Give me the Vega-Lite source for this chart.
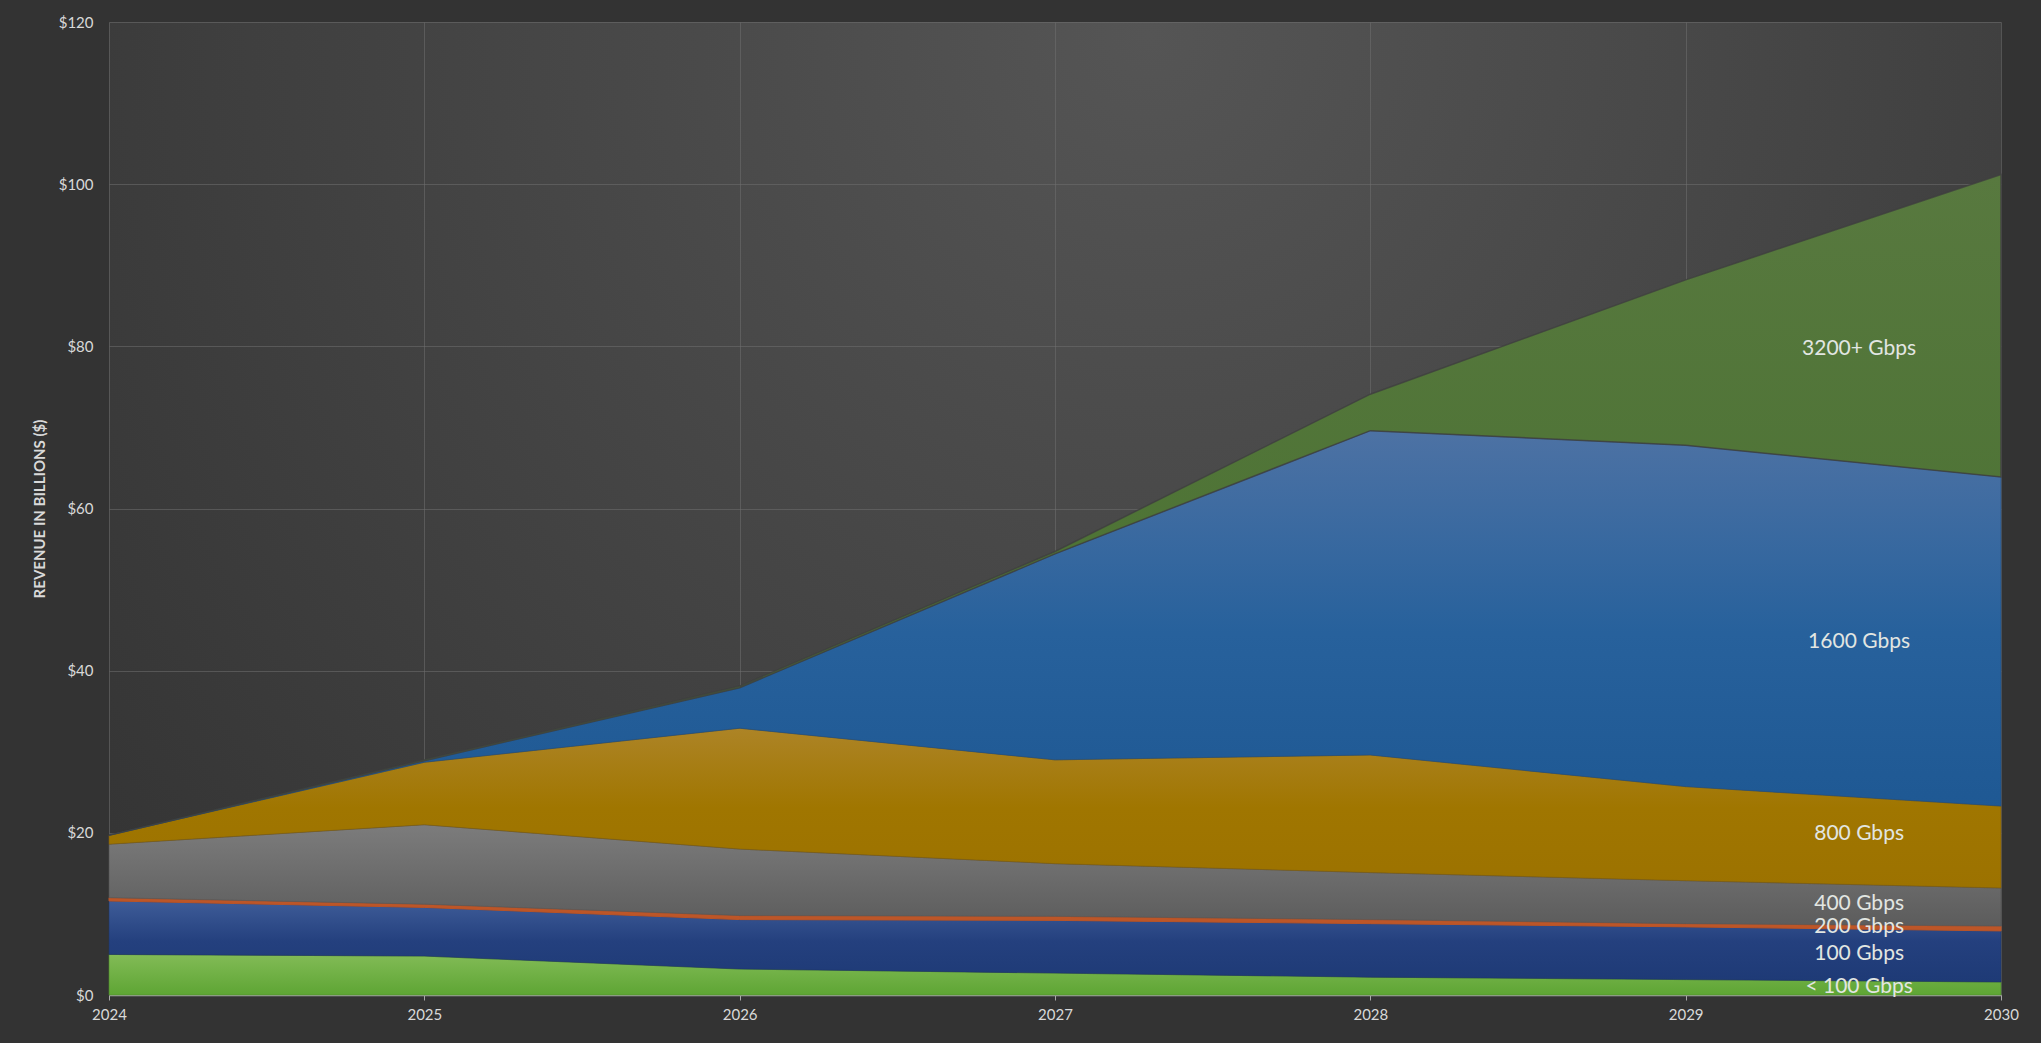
{
  "$schema": "https://vega.github.io/schema/vega-lite/v6.json",
  "width": 1892,
  "height": 973,
  "autosize": {"type": "none"},
  "padding": {"left": 109, "top": 22, "right": 40, "bottom": 48},
  "background": "#333333",
  "config": {
    "view": {
      "stroke": null,
      "fill": {"gradient": "radial", "x1": 0.55, "y1": 0.25, "r1": 0, "x2": 0.55, "y2": 0.25, "r2": 0.8,
        "stops": [{"offset": 0, "color": "#555555"}, {"offset": 1, "color": "#303030"}]}
    },
    "font": "Lato",
    "axis": {"labelFont": "Lato", "titleFont": "Lato"}
  },
  "datasets": {
    "rev": [
      {"year": 2024, "k": 1, "segment": "< 100 Gbps", "value": 5.0},
      {"year": 2025, "k": 1, "segment": "< 100 Gbps", "value": 4.8},
      {"year": 2026, "k": 1, "segment": "< 100 Gbps", "value": 3.2},
      {"year": 2027, "k": 1, "segment": "< 100 Gbps", "value": 2.7},
      {"year": 2028, "k": 1, "segment": "< 100 Gbps", "value": 2.2},
      {"year": 2029, "k": 1, "segment": "< 100 Gbps", "value": 1.9},
      {"year": 2030, "k": 1, "segment": "< 100 Gbps", "value": 1.6},
      {"year": 2024, "k": 2, "segment": "100 Gbps", "value": 6.6},
      {"year": 2025, "k": 2, "segment": "100 Gbps", "value": 6.0},
      {"year": 2026, "k": 2, "segment": "100 Gbps", "value": 6.1},
      {"year": 2027, "k": 2, "segment": "100 Gbps", "value": 6.5},
      {"year": 2028, "k": 2, "segment": "100 Gbps", "value": 6.6},
      {"year": 2029, "k": 2, "segment": "100 Gbps", "value": 6.5},
      {"year": 2030, "k": 2, "segment": "100 Gbps", "value": 6.3},
      {"year": 2024, "k": 3, "segment": "200 Gbps", "value": 0.4},
      {"year": 2025, "k": 3, "segment": "200 Gbps", "value": 0.4},
      {"year": 2026, "k": 3, "segment": "200 Gbps", "value": 0.5},
      {"year": 2027, "k": 3, "segment": "200 Gbps", "value": 0.5},
      {"year": 2028, "k": 3, "segment": "200 Gbps", "value": 0.5},
      {"year": 2029, "k": 3, "segment": "200 Gbps", "value": 0.4},
      {"year": 2030, "k": 3, "segment": "200 Gbps", "value": 0.6},
      {"year": 2024, "k": 4, "segment": "400 Gbps", "value": 6.6},
      {"year": 2025, "k": 4, "segment": "400 Gbps", "value": 9.8},
      {"year": 2026, "k": 4, "segment": "400 Gbps", "value": 8.2},
      {"year": 2027, "k": 4, "segment": "400 Gbps", "value": 6.5},
      {"year": 2028, "k": 4, "segment": "400 Gbps", "value": 5.8},
      {"year": 2029, "k": 4, "segment": "400 Gbps", "value": 5.3},
      {"year": 2030, "k": 4, "segment": "400 Gbps", "value": 4.7},
      {"year": 2024, "k": 5, "segment": "800 Gbps", "value": 1.1},
      {"year": 2025, "k": 5, "segment": "800 Gbps", "value": 7.7},
      {"year": 2026, "k": 5, "segment": "800 Gbps", "value": 14.9},
      {"year": 2027, "k": 5, "segment": "800 Gbps", "value": 12.8},
      {"year": 2028, "k": 5, "segment": "800 Gbps", "value": 14.5},
      {"year": 2029, "k": 5, "segment": "800 Gbps", "value": 11.6},
      {"year": 2030, "k": 5, "segment": "800 Gbps", "value": 10.1},
      {"year": 2024, "k": 6, "segment": "1600 Gbps", "value": 0.0},
      {"year": 2025, "k": 6, "segment": "1600 Gbps", "value": 0.2},
      {"year": 2026, "k": 6, "segment": "1600 Gbps", "value": 5.0},
      {"year": 2027, "k": 6, "segment": "1600 Gbps", "value": 25.4},
      {"year": 2028, "k": 6, "segment": "1600 Gbps", "value": 40.0},
      {"year": 2029, "k": 6, "segment": "1600 Gbps", "value": 42.1},
      {"year": 2030, "k": 6, "segment": "1600 Gbps", "value": 40.6},
      {"year": 2024, "k": 7, "segment": "3200+ Gbps", "value": 0.0},
      {"year": 2025, "k": 7, "segment": "3200+ Gbps", "value": 0.1},
      {"year": 2026, "k": 7, "segment": "3200+ Gbps", "value": 0.2},
      {"year": 2027, "k": 7, "segment": "3200+ Gbps", "value": 0.3},
      {"year": 2028, "k": 7, "segment": "3200+ Gbps", "value": 4.5},
      {"year": 2029, "k": 7, "segment": "3200+ Gbps", "value": 20.4},
      {"year": 2030, "k": 7, "segment": "3200+ Gbps", "value": 37.3}
    ],
    "labels": [
      {"year": 2029.55, "value": 79.7, "label": "3200+ Gbps"},
      {"year": 2029.55, "value": 43.5, "label": "1600 Gbps"},
      {"year": 2029.55, "value": 19.8, "label": "800 Gbps"},
      {"year": 2029.55, "value": 11.2, "label": "400 Gbps"},
      {"year": 2029.55, "value": 8.4, "label": "200 Gbps"},
      {"year": 2029.55, "value": 5.0, "label": "100 Gbps"},
      {"year": 2029.55, "value": 1.0, "label": "< 100 Gbps"}
    ]
  },
  "layer": [
    {
      "data": {"name": "rev"},
      "transform": [
        {"stack": "value", "groupby": ["year"], "sort": [{"field": "k", "order": "ascending"}], "as": ["y0", "y1"]}
      ],
      "encoding": {
        "x": {
          "field": "year", "type": "quantitative",
          "scale": {"domain": [2024, 2030], "nice": false, "zero": false},
          "axis": {
            "values": [2024, 2025, 2026, 2027, 2028, 2029, 2030],
            "format": "d", "title": null, "labelFlush": false, "labelOverlap": false,
            "labelColor": "#d9d9d9", "labelFontSize": 15, "labelPadding": 7,
            "domainColor": "#a8a8a8", "domainWidth": 1.5, "tickColor": "#a8a8a8", "tickSize": 5,
            "gridColor": "#707070", "gridOpacity": 0.55, "gridWidth": 1
          }
        },
        "y": {
          "field": "y1", "type": "quantitative",
          "scale": {"domain": [0, 120], "nice": false},
          "axis": {
            "values": [0, 20, 40, 60, 80, 100, 120],
            "labelExpr": "'$' + datum.value",
            "title": "REVENUE IN BILLIONS ($)",
            "titleColor": "#d9d9d9", "titleFontSize": 15, "titleFontWeight": "bold",
            "titlePadding": 11,
            "labelColor": "#d9d9d9", "labelFontSize": 15, "labelPadding": 16,
            "domain": false, "ticks": false,
            "gridColor": "#707070", "gridOpacity": 0.55, "gridWidth": 1
          }
        },
        "y2": {"field": "y0"}
      },
      "layer": [
        {
          "transform": [{"filter": "datum.k == 1"}],
          "mark": {"type": "area", "strokeWidth": 1, "stroke": "#4f8a2c", "strokeOpacity": 0.6,
            "color": {"gradient": "linear", "x1": 0, "y1": 0, "x2": 0, "y2": 1,
              "stops": [{"offset": 0, "color": "#82bb56"}, {"offset": 1, "color": "#5ea534"}]}}
        },
        {
          "transform": [{"filter": "datum.k == 2"}],
          "mark": {"type": "area", "strokeWidth": 1, "stroke": "#1c3466", "strokeOpacity": 0.5,
            "color": {"gradient": "linear", "x1": 0, "y1": 0, "x2": 0, "y2": 1,
              "stops": [{"offset": 0, "color": "#3e5c98"}, {"offset": 0.5, "color": "#24407e"}, {"offset": 1, "color": "#1e3a76"}]}}
        },
        {
          "transform": [{"filter": "datum.k == 3"}],
          "mark": {"type": "area", "strokeWidth": 1, "stroke": "#b8552a", "color": "#bd5628"}
        },
        {
          "transform": [{"filter": "datum.k == 4"}],
          "mark": {"type": "area", "strokeWidth": 1, "stroke": "#555555", "strokeOpacity": 0.6,
            "color": {"gradient": "linear", "x1": 0, "y1": 0, "x2": 0, "y2": 1,
              "stops": [{"offset": 0, "color": "#7c7c7c"}, {"offset": 1, "color": "#5c5c5c"}]}}
        },
        {
          "transform": [{"filter": "datum.k == 5"}],
          "mark": {"type": "area", "strokeWidth": 1, "stroke": "#7e5e10", "strokeOpacity": 0.6,
            "color": {"gradient": "linear", "x1": 0, "y1": 0, "x2": 0, "y2": 1,
              "stops": [{"offset": 0, "color": "#ad8426"}, {"offset": 0.5, "color": "#a07600"}, {"offset": 1, "color": "#9c7200"}]}}
        },
        {
          "transform": [{"filter": "datum.k == 6"}],
          "mark": {"type": "area", "strokeWidth": 1, "stroke": "#214f80", "strokeOpacity": 0.6,
            "color": {"gradient": "linear", "x1": 0, "y1": 0, "x2": 0, "y2": 1,
              "stops": [{"offset": 0, "color": "#4d72a4"}, {"offset": 0.5, "color": "#27619c"}, {"offset": 1, "color": "#1d5792"}]}}
        },
        {
          "transform": [{"filter": "datum.k == 7"}],
          "mark": {"type": "area", "strokeWidth": 1.5, "stroke": "#3e3e3e", "strokeOpacity": 0.8,
            "color": {"gradient": "linear", "x1": 0, "y1": 0, "x2": 0, "y2": 1,
              "stops": [{"offset": 0, "color": "#58793f"}, {"offset": 1, "color": "#466f2e"}]}}
        }
      ]
    },
    {
      "data": {"name": "labels"},
      "mark": {"type": "text", "fontSize": 21, "color": "#e2e6e2", "align": "center", "baseline": "middle", "font": "Lato"},
      "encoding": {
        "x": {"field": "year", "type": "quantitative"},
        "y": {"field": "value", "type": "quantitative"},
        "text": {"field": "label"}
      }
    }
  ]
}
